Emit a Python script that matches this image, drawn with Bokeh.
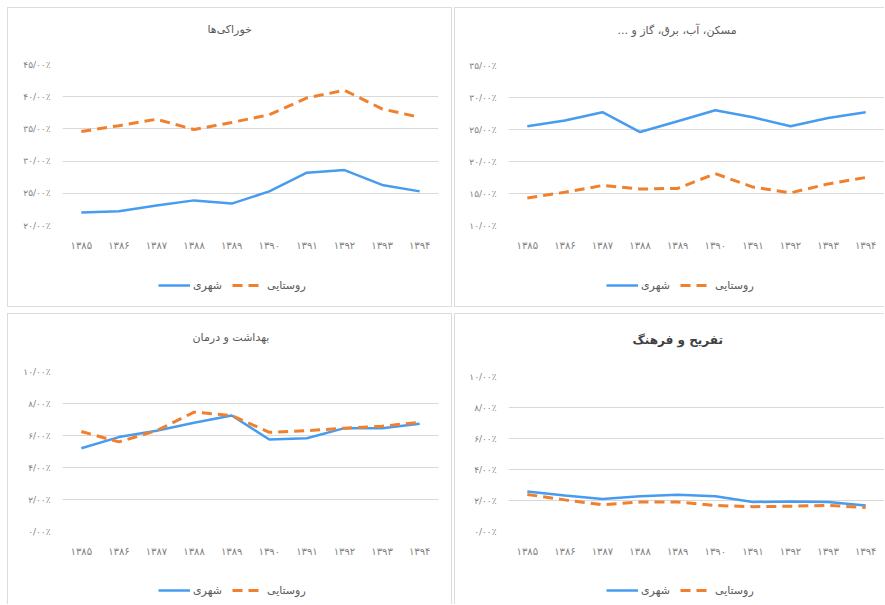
from bokeh.plotting import figure
from bokeh.models import FactorRange, Range1d, FixedTicker, Legend, LegendItem, Title
from bokeh.layouts import row, column
from bokeh.embed import file_html
from bokeh.resources import INLINE

years = ["۱۳۸۵", "۱۳۸۶", "۱۳۸۷", "۱۳۸۸", "۱۳۸۹", "۱۳۹۰", "۱۳۹۱", "۱۳۹۲", "۱۳۹۳", "۱۳۹۴"]
series_names = ["شهری", "روستایی"]

title_food = "خوراکی‌ها"
urban_food = [22.0, 22.2, 23.1, 23.9, 23.4, 25.3, 28.2, 28.6, 26.3, 25.3]
rural_food = [34.6, 35.5, 36.5, 34.9, 36.0, 37.2, 39.8, 41.0, 38.1, 36.8]
ticks_food = [20, 25, 30, 35, 40, 45]
labels_food = ["۲۰/۰۰٪", "۲۵/۰۰٪", "۳۰/۰۰٪", "۳۵/۰۰٪", "۴۰/۰۰٪", "۴۵/۰۰٪"]

title_housing = "مسکن، آب، برق، گاز و ...\u200f"
urban_housing = [25.5, 26.4, 27.7, 24.6, 26.3, 28.0, 26.9, 25.5, 26.8, 27.7]
rural_housing = [14.3, 15.2, 16.25, 15.7, 15.8, 18.1, 16.0, 15.1, 16.5, 17.5]
ticks_housing = [10, 15, 20, 25, 30, 35]
labels_housing = ["۱۰/۰۰٪", "۱۵/۰۰٪", "۲۰/۰۰٪", "۲۵/۰۰٪", "۳۰/۰۰٪", "۳۵/۰۰٪"]

title_health = "بهداشت و درمان"
urban_health = [5.2, 5.9, 6.3, 6.8, 7.25, 5.75, 5.83, 6.46, 6.46, 6.73]
rural_health = [6.25, 5.6, 6.3, 7.46, 7.25, 6.2, 6.3, 6.46, 6.58, 6.83]
ticks_small = [0, 2, 4, 6, 8, 10]
labels_small = ["۰/۰۰٪", "۲/۰۰٪", "۴/۰۰٪", "۶/۰۰٪", "۸/۰۰٪", "۱۰/۰۰٪"]

title_leisure = "تفریح و فرهنگ"
urban_leisure = [2.58, 2.32, 2.1, 2.28, 2.37, 2.28, 1.9, 1.94, 1.9, 1.68]
rural_leisure = [2.39, 2.04, 1.72, 1.9, 1.9, 1.68, 1.6, 1.63, 1.68, 1.55]

BLUE = "#479CF0"
ORANGE = "#F0802E"
FONT = "DejaVu Sans"
BORDER = "1px solid #dcdcdc"
DASH = "10 6"


def make_panel(title, urban, rural, ticks, labels, width, chart_h, legend_h,
               top, bottom, left, right, legend_top, gap, title_offset,
               legend_xy, right_edge=False, bottom_edge=False,
               title_size="11px", title_style="normal", title_color="#595959"):
    p = figure(x_range=FactorRange(*years),
               y_range=Range1d(ticks[0], ticks[-1]),
               width=width, height=chart_h, output_backend="svg",
               toolbar_location=None, min_border_top=top,
               min_border_bottom=bottom, min_border_left=left,
               min_border_right=right)
    # spacer between the frame and the title, then the title itself
    p.add_layout(Title(text=" ", text_font_size="11px", standoff=gap,
                       text_color="#ffffff"), "above")
    p.add_layout(Title(text=title, align="left", offset=title_offset,
                       text_font=FONT, text_font_size=title_size,
                       text_font_style=title_style, text_color=title_color,
                       standoff=4), "above")
    st = {"border": BORDER, "border-bottom": "none"}
    if right_edge:
        st["border-right"] = "none"
    p.styles = st
    p.outline_line_color = None

    p.line(years, urban, line_color=BLUE, line_width=2.5)
    p.line(years, rural, line_color=ORANGE, line_width=3, line_dash=DASH)

    p.xgrid.grid_line_color = None
    p.ygrid.grid_line_color = "#d9d9d9"
    p.ygrid.grid_line_width = 1

    p.yaxis.ticker = FixedTicker(ticks=ticks)
    p.yaxis.major_label_overrides = {t: l for t, l in zip(ticks, labels)}
    for ax in (p.xaxis[0], p.yaxis[0]):
        ax.axis_line_color = None
        ax.major_tick_line_color = None
        ax.minor_tick_line_color = None
        ax.major_label_text_font = FONT
        ax.major_label_text_color = "#7f7f7f"
    p.yaxis.major_label_text_font_size = "9px"
    p.yaxis.major_label_standoff = 6
    p.xaxis.major_label_text_font_size = "10px"
    p.xaxis.major_label_standoff = 8

    # legend strip below the chart (its lines lie outside its visible range)
    lf = figure(x_range=FactorRange(*years), y_range=Range1d(-2, -1),
                width=width, height=legend_h, output_backend="svg",
                toolbar_location=None, min_border_top=legend_top,
                min_border_bottom=0, min_border_left=left,
                min_border_right=right)
    lf.axis.visible = False
    lf.grid.visible = False
    lf.outline_line_color = None
    ls = {"border": BORDER, "border-top": "none"}
    if right_edge:
        ls["border-right"] = "none"
    if bottom_edge:
        ls["border-bottom"] = "none"
    lf.styles = ls
    g1 = lf.line(years, urban, line_color=BLUE, line_width=2.5)
    g2 = lf.line(years, rural, line_color=ORANGE, line_width=3,
                 line_dash=DASH)
    legend = Legend(items=[LegendItem(label=series_names[0], renderers=[g1]),
                           LegendItem(label=series_names[1], renderers=[g2])],
                    orientation="horizontal", location=legend_xy,
                    glyph_width=32, label_standoff=3, spacing=10,
                    padding=0, margin=0,
                    border_line_color=None, background_fill_alpha=0,
                    label_text_font=FONT, label_text_font_size="11px",
                    label_text_color="#595959")
    lf.add_layout(legend)
    return column(p, lf, spacing=0)


p1 = make_panel(title_food, urban_food, rural_food, ticks_food, labels_food,
                445, 254, 46, 56, 37, 54, 15, 2, 13, 145, (96, 12))
p2 = make_panel(title_housing, urban_housing, rural_housing, ticks_housing,
                labels_housing, 430, 254, 46, 57, 37, 53, 1, 2, 13, 109,
                (98, 12), right_edge=True)
p3 = make_panel(title_health, urban_health, rural_health, ticks_small,
                labels_small, 445, 258, 33, 57, 41, 54, 15, 4, 12, 130,
                (96, 4), bottom_edge=True)
p4 = make_panel(title_leisure, urban_leisure, rural_leisure, ticks_small,
                labels_small, 430, 258, 33, 62, 41, 53, 1, 4, 14, 124,
                (98, 4), right_edge=True, bottom_edge=True,
                title_size="12px", title_style="bold", title_color="#404040")

layout = column(row(p1, p2, spacing=2), row(p3, p4, spacing=2), spacing=6,
                margin=(7, 0, 0, 7))

open("out.html", "w").write(file_html(layout, INLINE))
